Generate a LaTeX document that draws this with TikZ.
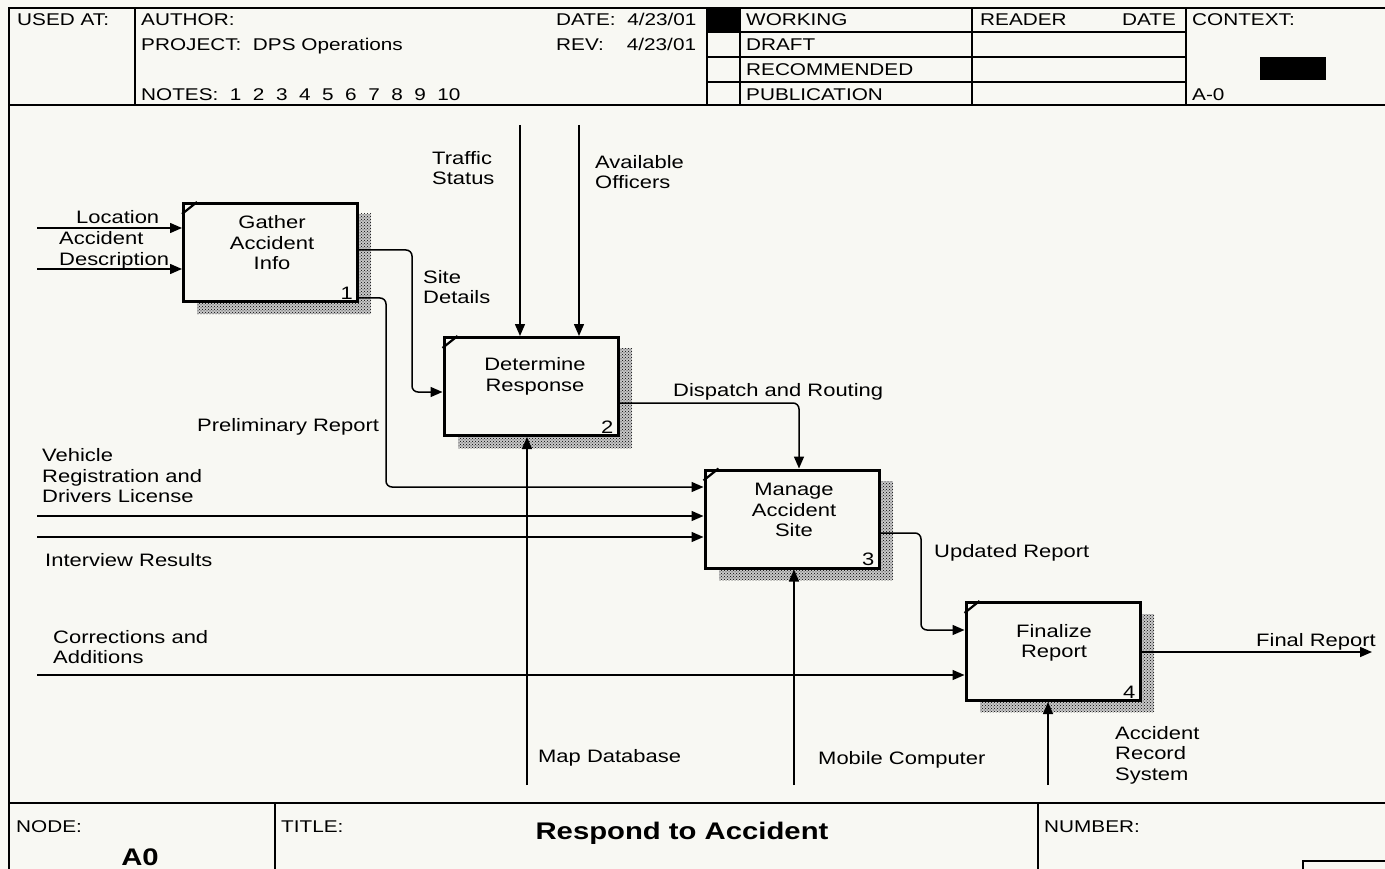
\documentclass[tikz,border=0pt]{standalone}
\usepackage{fontspec}
\setmainfont{Liberation Sans}[FakeStretch=1.22]
\usetikzlibrary{arrows.meta,patterns,calc}
\definecolor{paper}{RGB}{248,248,243}
\newcommand\diagfont{\fontsize{18}{20.5}\selectfont}
\newcommand\formfont{\fontsize{17}{20}\selectfont}
\newcommand\titlefont{\fontsize{24}{28}\selectfont\bfseries}
\begin{document}
\begin{tikzpicture}[x=1pt,y=-1pt,
  frame/.style={line width=2pt, line cap=rect},
  proc/.style={draw, line width=3pt, fill=paper, minimum width=174pt, minimum height=98pt, inner sep=0pt},
  shadebase/.style={fill=black!22},
  shade/.style={pattern=crosshatch dots, pattern color=black},
  tick/.style={line width=2.2pt},
  flow/.style={line width=1.5pt, rounded corners=6pt, -{Triangle[length=12pt,width=10pt]}},
  lbl/.style={inner sep=0pt, font=\diagfont},
  hdr/.style={inner sep=0pt, anchor=base west, font=\formfont},
]
% page
\fill[paper] (0,0) rectangle (1385,869);
\useasboundingbox (0,0) rectangle (1385,869);

% ---- form frame: header ----
\draw[frame] (9,869) -- (9,8) -- (1385,8);
\draw[frame] (9,105) -- (1385,105);
\draw[frame] (135,8) -- (135,105);
\draw[frame] (707,8) -- (707,105);
\draw[frame] (740,8) -- (740,105);
\draw[frame] (972,8) -- (972,105);
\draw[frame] (1186,8) -- (1186,105);
\draw[frame] (707,32) -- (1186,32);
\draw[frame] (707,57) -- (1186,57);
\draw[frame] (707,82) -- (1186,82);
\fill (707,8) rectangle (740,32);
\fill (1260,57) rectangle (1326,80);

\node[hdr] (usedat) at (17,26) {USED AT:};
\node[hdr] (author) at (141,26) {AUTHOR:};
\node[hdr] (project) at (141,51) {PROJECT:\ \ DPS Operations};
\node[hdr] (notes) at (141,101) {NOTES:\ \ 1\ \ 2\ \ 3\ \ 4\ \ 5\ \ 6\ \ 7\ \ 8\ \ 9\ \ 10};
\node[hdr] (date) at (556,26) {DATE:\ \ 4/23/01};
\node[hdr] (rev) at (556,51) {REV:\ \ \ \ 4/23/01};
\node[hdr] (working) at (746,26) {WORKING};
\node[hdr] (draft) at (746,51) {DRAFT};
\node[hdr] (recommended) at (746,76) {RECOMMENDED};
\node[hdr] (publication) at (746,101) {PUBLICATION};
\node[hdr] (reader) at (980,26) {READER};
\node[hdr] (readerdate) at (1122,26) {DATE};
\node[hdr] (context) at (1192,26) {CONTEXT:};
\node[hdr] (ctxnode) at (1192,101) {A-0};

% ---- form frame: footer ----
\draw[frame] (9,803) -- (1385,803);
\draw[frame] (275,803) -- (275,869);
\draw[frame] (1038,803) -- (1038,869);
\draw[line width=1.5pt] (1303,869) -- (1303,861) -- (1385,861);
\node[hdr] (nodelbl) at (16,832) {NODE:};
\node[hdr] (titlelbl) at (281,832) {TITLE:};
\node[hdr] (numberlbl) at (1044,832) {NUMBER:};
\node[inner sep=0pt, anchor=base, font=\titlefont] (title) at (682,839) {Respond to Accident};
\node[inner sep=0pt, anchor=base, font=\titlefont] (nodeid) at (140,865) {A0};

% ---- activity shadows ----
\foreach \l/\t/\r/\b in {197/214/371/314, 458/348/632/448, 719/481/893/580, 980/614/1154/712}{
  \fill[shadebase] (\l,\t) rectangle (\r,\b);
  \fill[shade] (\l,\t) rectangle (\r,\b);
}

% ---- activities ----
\node[proc] (b1) at (270.5,252.5) {};
\node[proc] (b2) at (531,386.5) {};
\node[proc] (b3) at (792,519) {};
\node[proc] (b4) at (1053,651.5) {};
\foreach \b in {b1,b2,b3,b4}{
  \draw[tick] ($(\b.north west)+(0,12)$) -- ($(\b.north west)+(15,0)$);
}
\node[lbl, align=center] (t1) at (272,243) {Gather\\Accident\\Info};
\node[lbl, align=center] (t2) at (535,376.5) {Determine\\Response};
\node[lbl, align=center] (t3) at (794,510) {Manage\\Accident\\Site};
\node[lbl, align=center] (t4) at (1054,643) {Finalize\\Report};
\node[lbl, anchor=base east] (n1) at ($(b1.south east)+(-6,-4)$) {1};
\node[lbl, anchor=base east] (n2) at ($(b2.south east)+(-6,-4)$) {2};
\node[lbl, anchor=base east] (n3) at ($(b3.south east)+(-6,-4)$) {3};
\node[lbl, anchor=base east] (n4) at ($(b4.south east)+(-6,-4)$) {4};

% ---- free ends of boundary arrows ----
\coordinate (inLoc) at (37,228);
\coordinate (inDesc) at (37,269);
\coordinate (inVeh) at (37,516);
\coordinate (inInt) at (37,537);
\coordinate (inCor) at (37,675);
\coordinate (ctTraffic) at (520,125);
\coordinate (ctOfficers) at (579,125);
\coordinate (mechMap) at (527,785);
\coordinate (mechMob) at (794,785);
\coordinate (mechRec) at (1048,785);
\coordinate (outFinal) at (1372,652);

% ---- arrows ----
\draw[flow] (inLoc) -- (inLoc -| b1.west);
\draw[flow] (inDesc) -- (inDesc -| b1.west);
\draw[flow] (b1.east |- 0,250) -| (412,392) -- (b2.west |- 0,392);
\draw[flow] (b1.east |- 0,298) -| (386,487) -- (b3.west |- 0,487);
\draw[flow] (ctTraffic) -- (ctTraffic |- b2.north);
\draw[flow] (ctOfficers) -- (ctOfficers |- b2.north);
\draw[flow] (b2.east |- 0,403) -| (799,0 |- b3.north);
\draw[flow] (mechMap) -- (mechMap |- b2.south);
\draw[flow] (inVeh) -- (inVeh -| b3.west);
\draw[flow] (inInt) -- (inInt -| b3.west);
\draw[flow] (mechMob) -- (mechMob |- b3.south);
\draw[flow] (b3.east |- 0,533) -| (921,630) -- (b4.west |- 0,630);
\draw[flow] (inCor) -- (inCor -| b4.west);
\draw[flow] (mechRec) -- (mechRec |- b4.south);
\draw[flow] (b4.east |- 0,652) -- (outFinal);

% ---- arrow labels ----
\node[lbl, anchor=west] (lLoc) at (76,217) {Location};
\node[lbl, anchor=west, align=left] (lDesc) at (59,250.5) {Accident\\Description};
\node[lbl, anchor=west, align=left] (lSite) at (423,287) {Site\\Details};
\node[lbl, anchor=west, align=left] (lTraffic) at (432,168) {Traffic\\Status};
\node[lbl, anchor=west, align=left] (lOfficers) at (595,172) {Available\\Officers};
\node[lbl, anchor=west] (lDispatch) at (673,392) {Dispatch and Routing};
\node[lbl, anchor=west] (lPrelim) at (197,427) {Preliminary Report};
\node[lbl, anchor=west, align=left] (lVeh) at (42,476) {Vehicle\\Registration and\\Drivers License};
\node[lbl, anchor=west] (lInt) at (45,560) {Interview Results};
\node[lbl, anchor=west] (lUpd) at (934,553) {Updated Report};
\node[lbl, anchor=west, align=left] (lCor) at (53,647) {Corrections and\\Additions};
\node[lbl, anchor=west] (lFinal) at (1256,642) {Final Report};
\node[lbl, anchor=west] (lMap) at (538,758) {Map Database};
\node[lbl, anchor=west] (lMob) at (818,760) {Mobile Computer};
\node[lbl, anchor=west, align=left] (lRec) at (1115,755) {Accident\\Record\\System};
\end{tikzpicture}
\end{document}
